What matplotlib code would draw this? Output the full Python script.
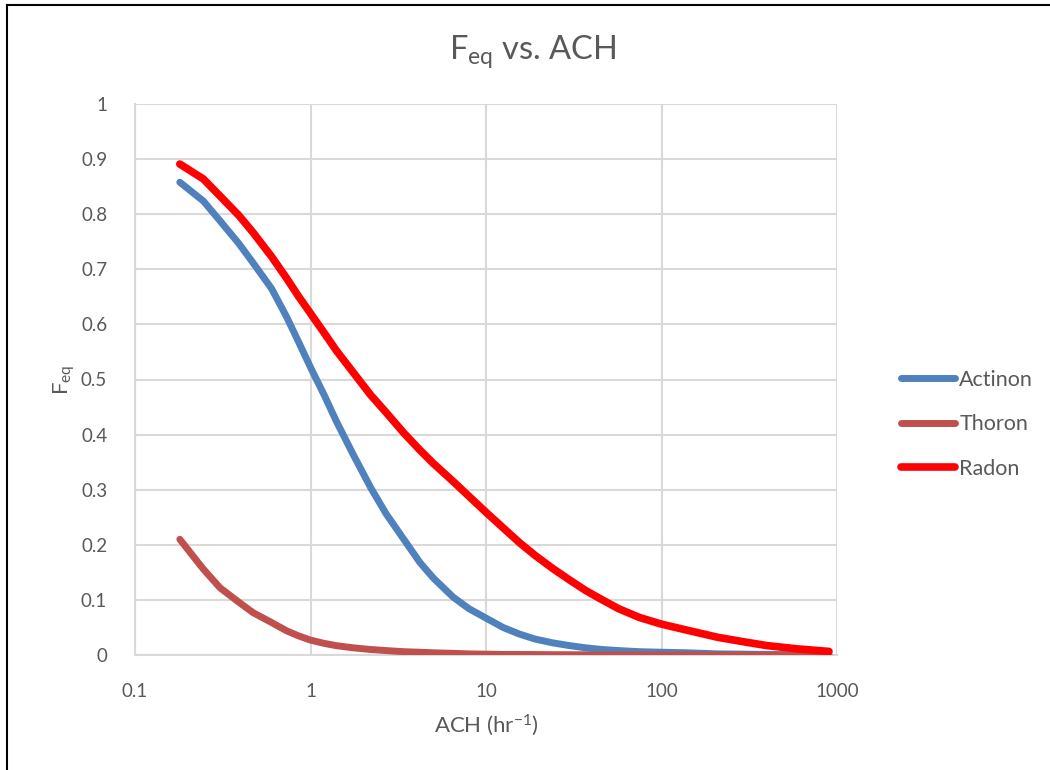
import matplotlib
matplotlib.use("Agg")
import matplotlib.pyplot as plt
from matplotlib.lines import Line2D
from matplotlib.ticker import FixedLocator, FixedFormatter, NullLocator

plt.rcParams['font.family'] = ['Lato', 'DejaVu Sans']
plt.rcParams['mathtext.default'] = 'regular'

ach = [0.18, 0.245, 0.305, 0.39, 0.47, 0.6, 0.73, 0.85, 1, 1.2, 1.4, 1.75,
       2.2, 2.7, 3.4, 4.2, 5, 6.5, 8, 10, 12.5, 15.5, 19, 24, 30, 37, 46, 57,
       75, 100, 140, 210, 300, 400, 600, 900]

actinon = [0.858, 0.824, 0.788, 0.747, 0.712, 0.665, 0.614, 0.57, 0.522,
           0.471, 0.425, 0.364, 0.304, 0.256, 0.21, 0.168, 0.14, 0.105,
           0.084, 0.067, 0.05, 0.038, 0.029, 0.022, 0.017, 0.013, 0.010,
           0.008, 0.006, 0.005, 0.004, 0.002, 0.0015, 0.001, 0.0005, 0.0003]
thoron = [0.21, 0.156, 0.122, 0.096, 0.077, 0.059, 0.044, 0.035, 0.027,
          0.021, 0.017, 0.013, 0.010, 0.008, 0.006, 0.005, 0.004, 0.003,
          0.002, 0.0015, 0.001, 0.001, 0.0008, 0.0006, 0.0005, 0.0004,
          0.0003, 0.0002, 0.0002, 0.0001, 0.0001, 0, 0, 0, 0, 0]
radon = [0.891, 0.864, 0.833, 0.798, 0.767, 0.723, 0.684, 0.652, 0.62, 0.584,
         0.553, 0.513, 0.472, 0.44, 0.403, 0.372, 0.348, 0.315, 0.288, 0.259,
         0.231, 0.204, 0.181, 0.157, 0.136, 0.117, 0.1, 0.084, 0.068,
         0.056, 0.045, 0.032, 0.0235, 0.017, 0.011, 0.0065]

xticks = [0.1, 1, 10, 100, 1000]
xtick_labels = ['0.1', '1', '10', '100', '1000']
yticks = [i / 10 for i in range(11)]
ytick_labels = ['0', '0.1', '0.2', '0.3', '0.4', '0.5', '0.6', '0.7', '0.8', '0.9', '1']

grey = '#595959'
grid = '#D9D9D9'

fig = plt.figure(figsize=(10.5, 7.7), dpi=100)
ax = fig.add_axes([135 / 1050, 1 - 655 / 770, (837 - 135) / 1050, (655 - 104) / 770])

ax.plot(ach, actinon, color='#4F81BD', lw=5, solid_capstyle='round',
        solid_joinstyle='round', label='Actinon', zorder=3)
ax.plot(ach, thoron, color='#C0504D', lw=5, solid_capstyle='round',
        solid_joinstyle='round', label='Thoron', zorder=3)
ax.plot(ach, radon, color='#FF0000', lw=5.5, solid_capstyle='round',
        solid_joinstyle='round', label='Radon', zorder=3)

ax.set_xscale('log')
ax.set_xlim(0.1, 1000)
ax.set_ylim(0, 1)
ax.xaxis.set_major_locator(FixedLocator(xticks))
ax.xaxis.set_major_formatter(FixedFormatter(xtick_labels))
ax.xaxis.set_minor_locator(NullLocator())
ax.yaxis.set_major_locator(FixedLocator(yticks))
ax.yaxis.set_major_formatter(FixedFormatter(ytick_labels))
ax.tick_params(length=0, labelsize=13.5, labelcolor=grey)
ax.tick_params(axis='x', pad=20)
ax.tick_params(axis='y', pad=20)
ax.grid(True, color=grid, lw=1.5)
ax.set_axisbelow(True)
for side in ['top', 'right']:
    ax.spines[side].set_visible(False)
for side in ['left', 'bottom']:
    ax.spines[side].set_color(grid)
    ax.spines[side].set_linewidth(1.5)

ax.set_xlabel('ACH (hr$^{-1}$)', fontsize=16, color=grey, labelpad=9)
ax.set_ylabel('F$_{eq}$', fontsize=16, color=grey, labelpad=3)

fig.text(0.507, 0.933, 'F$_{eq}$ vs. ACH', fontsize=23.5, color=grey, ha='center', va='center')

fig.legend(loc='center left', bbox_to_anchor=(0.848, 0.449), frameon=False,
           fontsize=15.5, handlelength=2.5, handletextpad=0.2, labelspacing=1.15,
           labelcolor=grey, borderpad=0)

# outer frame of the chart
fig.add_artist(Line2D([0.007, 0.007], [0, 0.994], color='black', lw=1.5))
fig.add_artist(Line2D([0.007, 1], [0.994, 0.994], color='black', lw=1.5))

fig.savefig('out.png', dpi=100)
